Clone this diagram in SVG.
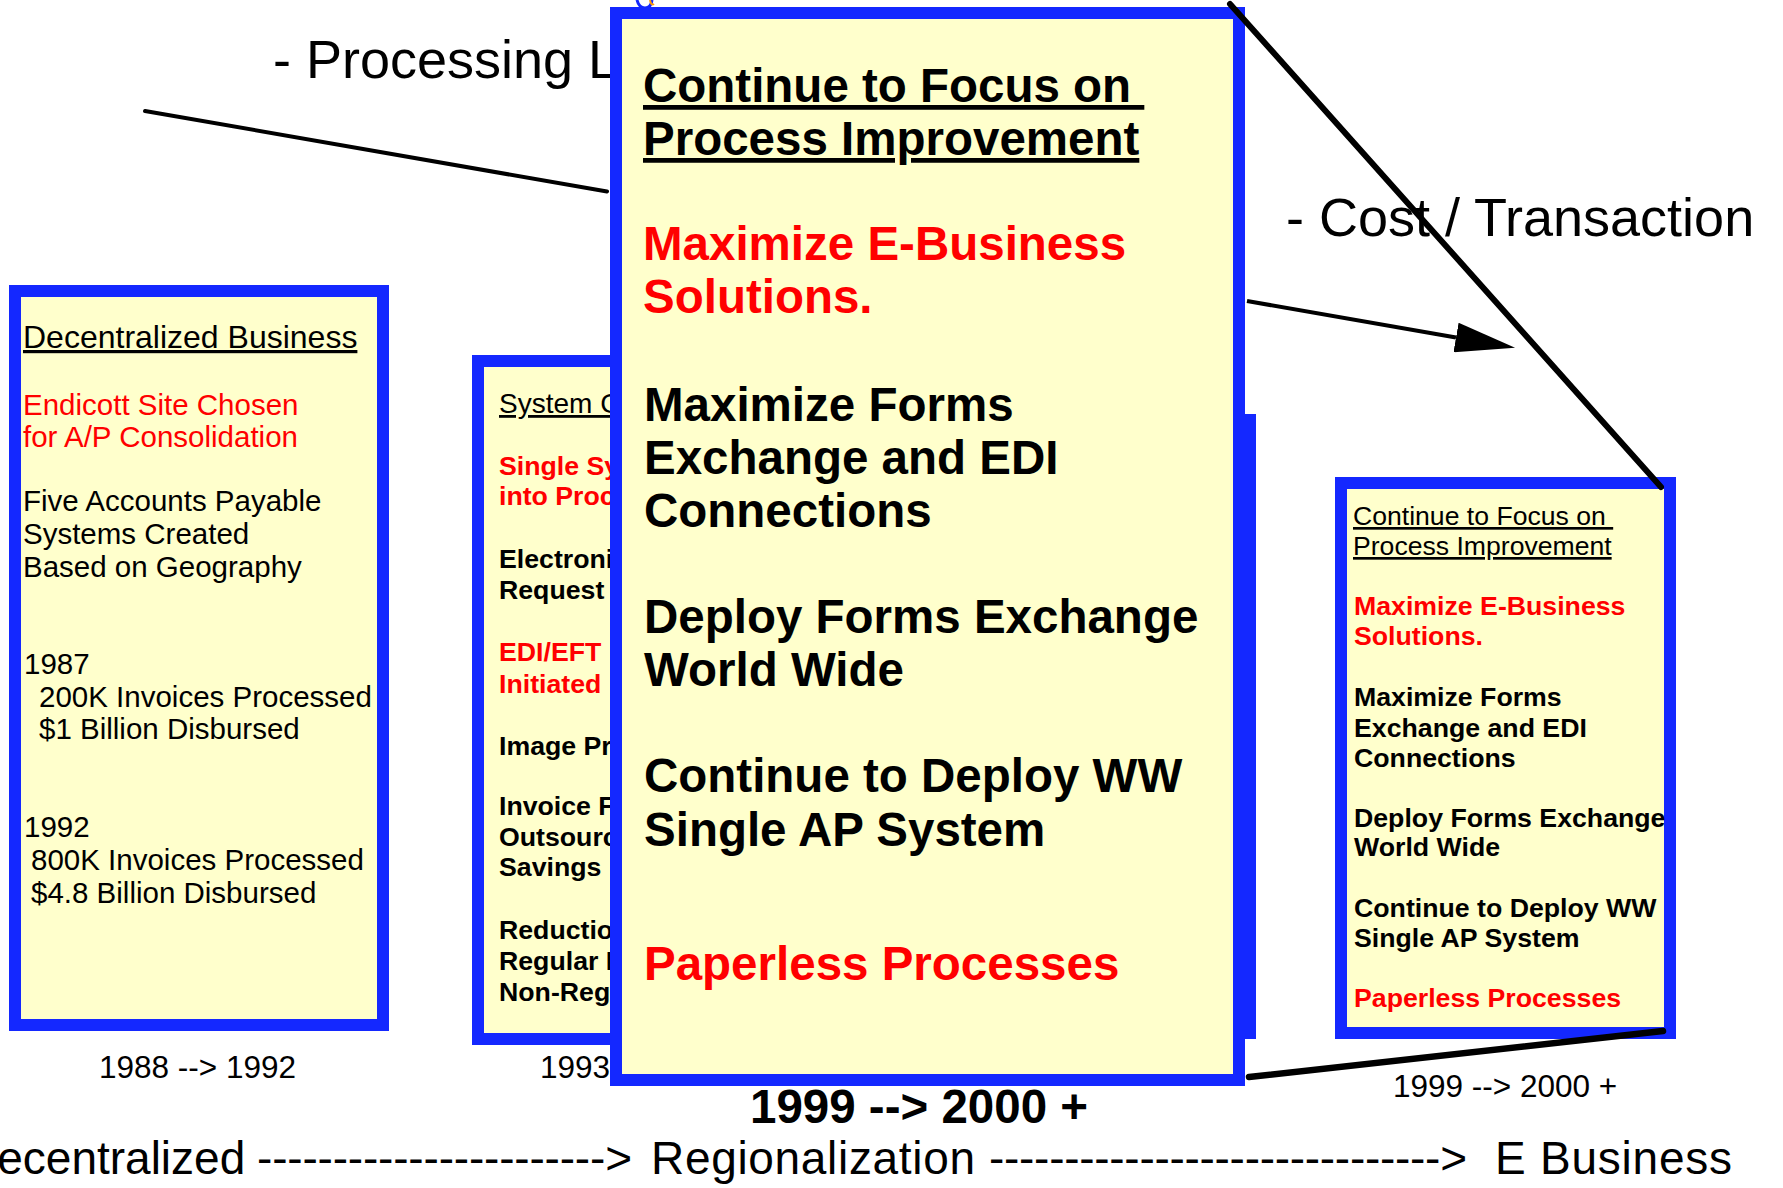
<svg xmlns="http://www.w3.org/2000/svg" width="1783" height="1188" viewBox="0 0 1783 1188">
<defs>
<style>
.box{fill:#ffffcc;stroke:#1428ff;stroke-width:12}
.strip{fill:#ffffcc;stroke:#1428ff;stroke-width:12}
text{font-family:"Liberation Sans",Arial,sans-serif;fill:#000}
.b{font-weight:bold}
.red{fill:#ff0000}
.u{text-decoration:underline}
.f29{font-size:29.5px}
.f27{font-size:26.7px}
.f48{font-size:47.5px}
.f31{font-size:31.5px}
.f54{font-size:54px}
.conn{stroke:#000;fill:none;stroke-linecap:round}
</style>
<marker id="arrow" viewBox="0 0 60 30" refX="0" refY="15" markerWidth="60" markerHeight="30" markerUnits="userSpaceOnUse" orient="auto">
<path d="M0,0 L60,15 L0,30 z" fill="#000"/>
</marker>
</defs>
<rect width="1783" height="1188" fill="#fff"/>

<g id="labels">
<text class="f54" x="273" y="78">- Processing L</text>
<text class="f54" x="1286" y="236">- Cost / Transaction</text>
<text class="f31" x="99" y="1078">1988 --&gt; 1992</text>
<text class="f31" x="540" y="1078">1993</text>
<text class="f31" x="1393" y="1097">1999 --&gt; 2000 +</text>
<text style="font-size:46px" y="1174"><tspan x="-36">Decentralized</tspan><tspan x="257" textLength="375">-----------------------&gt;</tspan><tspan x="651" textLength="324">Regionalization</tspan><tspan x="989" textLength="478">------------------------------&gt;</tspan><tspan x="1495" textLength="237">E Business</tspan></text>
</g>

<g id="box-1988-1992">
<rect class="box" x="15" y="291" width="368" height="734"/>
<text style="font-size:32px" class="u" x="23" y="348">Decentralized Business</text>
<text class="f29 red" x="23" y="415">Endicott Site Chosen</text>
<text class="f29 red" x="23" y="447">for A/P Consolidation</text>
<text class="f29" x="23" y="511">Five Accounts Payable</text>
<text class="f29" x="23" y="544">Systems Created</text>
<text class="f29" x="23" y="577">Based on Geography</text>
<text class="f29" x="24" y="674">1987</text>
<text class="f29" x="39" y="707">200K Invoices Processed</text>
<text class="f29" x="39" y="739">$1 Billion Disbursed</text>
<text class="f29" x="24" y="837">1992</text>
<text class="f29" x="31" y="870">800K Invoices Processed</text>
<text class="f29" x="31" y="903">$4.8 Billion Disbursed</text>
</g>

<g id="box-1993">
<rect class="box" x="478" y="361" width="416" height="678"/>
<text class="u" style="font-size:28px" x="499" y="413">System C</text>
<text class="f27 b red" x="499" y="475">Single Sy</text>
<text class="f27 b red" x="499" y="505">into Proc</text>
<text class="f27 b" x="499" y="568">Electroni</text>
<text class="f27 b" x="499" y="599">Request</text>
<text class="f27 b red" x="499" y="661">EDI/EFT</text>
<text class="f27 b red" x="499" y="693">Initiated</text>
<text class="f27 b" x="499" y="755">Image Pr</text>
<text class="f27 b" x="499" y="815">Invoice F</text>
<text class="f27 b" x="499" y="846">Outsourc</text>
<text class="f27 b" x="499" y="876">Savings</text>
<text class="f27 b" x="499" y="939">Reductio</text>
<text class="f27 b" x="499" y="970">Regular I</text>
<text class="f27 b" x="499" y="1001">Non-Reg</text>
</g>

<g id="box-hidden">
<rect class="strip" x="706" y="420" width="544" height="613"/>
</g>

<g id="box-zoom">
<path d="M637,0 Q639,8 645,8 Q651,8 652,0" fill="none" stroke="#1428ff" stroke-width="3"/>
<path d="M650,0 Q651,6 654,4" fill="none" stroke="#ff9900" stroke-width="2"/>
<rect class="box" x="616" y="13" width="623" height="1067"/>
<text class="f48 b u" x="643" y="102" xml:space="preserve">Continue to Focus on </text>
<text class="f48 b u" x="643" y="155">Process Improvement</text>
<text class="f48 b red" x="643" y="260">Maximize E-Business</text>
<text class="f48 b red" x="643" y="313">Solutions.</text>
<text class="f48 b" x="644" y="421">Maximize Forms</text>
<text class="f48 b" x="644" y="474">Exchange and EDI</text>
<text class="f48 b" x="644" y="527">Connections</text>
<text class="f48 b" x="644" y="633">Deploy Forms Exchange</text>
<text class="f48 b" x="644" y="686">World Wide</text>
<text class="f48 b" x="644" y="792">Continue to Deploy WW</text>
<text class="f48 b" x="644" y="846">Single AP System</text>
<text class="f48 b red" x="644" y="980">Paperless Processes</text>
<text class="f48 b" x="750" y="1123">1999 --&gt; 2000 +</text>
</g>

<g id="box-1999-2000">
<rect class="box" x="1341" y="483" width="329" height="550"/>
<text class="u" style="font-size:26.6px" x="1353" y="525" xml:space="preserve">Continue to Focus on </text>
<text class="u" style="font-size:26.6px" x="1353" y="555">Process Improvement</text>
<text class="f27 b red" x="1354" y="615">Maximize E-Business</text>
<text class="f27 b red" x="1354" y="645">Solutions.</text>
<text class="f27 b" x="1354" y="706">Maximize Forms</text>
<text class="f27 b" x="1354" y="737">Exchange and EDI</text>
<text class="f27 b" x="1354" y="767">Connections</text>
<text class="f27 b" x="1354" y="827">Deploy Forms Exchange</text>
<text class="f27 b" x="1354" y="856">World Wide</text>
<text class="f27 b" x="1354" y="917">Continue to Deploy WW</text>
<text class="f27 b" x="1354" y="947">Single AP System</text>
<text class="f27 b red" x="1354" y="1007">Paperless Processes</text>
</g>

<g id="connectors">
<line class="conn" x1="145" y1="111" x2="607" y2="191.5" stroke-width="4"/>
<line x1="1247" y1="301" x2="1456" y2="337.5" stroke="#000" stroke-width="4" marker-end="url(#arrow)"/>
<line class="conn" x1="1230" y1="4" x2="1661" y2="487" stroke-width="6"/>
<line class="conn" x1="1249" y1="1077" x2="1663" y2="1031" stroke-width="6.5"/>
</g>
</svg>
